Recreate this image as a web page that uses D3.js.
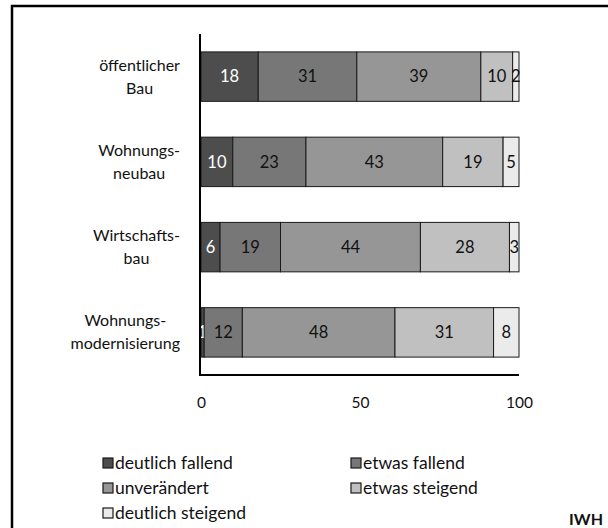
<!DOCTYPE html>
<html>
<head>
    <meta charset="utf-8">
    <title>Bauerwartungen</title>
    <script src="https://d3js.org/d3.v7.min.js"></script>
    <style>
        body { margin: 0; background: #fff; }
        text { font-family: Lato, "Open Sans", sans-serif; fill: #111; }
        .axis path { stroke: #000; stroke-width: 2; }
        .axis text { font-size: 15.5px; }
    </style>
</head>
<body>
    <script>
        // Data
        const catLines = [["öffentlicher", "Bau"], ["Wohnungs-", "neubau"], ["Wirtschafts-", "bau"], ["Wohnungs-", "modernisierung"]];
        const seriesNames = ["deutlich fallend", "etwas fallend", "unverändert", "etwas steigend", "deutlich steigend"];
        const deutlichFallend = [18, 10, 6, 1];
        const etwasFallend = [31, 23, 19, 12];
        const unveraendert = [39, 43, 44, 48];
        const etwasSteigend = [10, 19, 28, 31];
        const deutlichSteigend = [2, 5, 3, 8];
        const xTicks = [0, 50, 100];

        const colors = ["#4d4d4d", "#777777", "#969696", "#c0c0c0", "#ebebeb"];
        const labelColors = ["#fff", "#111", "#111", "#111", "#111"];

        const W = 608, H = 528;
        const svg = d3.select("body").append("svg")
            .attr("width", W)
            .attr("height", H);

        // frame
        svg.append("rect")
            .attr("x", 12).attr("y", 6)
            .attr("width", 620).attr("height", 560)
            .attr("fill", "none").attr("stroke", "#000").attr("stroke-width", 2.5);

        const table = catLines.map((c, i) => ({
            idx: i,
            vals: [deutlichFallend[i], etwasFallend[i], unveraendert[i], etwasSteigend[i], deutlichSteigend[i]]
        }));
        const stack = d3.stack()
            .keys(d3.range(5))
            .value((d, k) => d.vals[k])(table);

        const x = d3.scaleLinear().domain([0, 100]).range([201, 519]);
        const y = d3.scaleBand()
            .domain(d3.range(4))
            .range([34, 375])
            .paddingInner(0.42)
            .paddingOuter(0.21);

        // bars
        const layers = svg.selectAll("g.layer")
            .data(stack)
            .enter().append("g")
            .attr("class", "layer");

        layers.selectAll("rect")
            .data(d => d)
            .enter().append("rect")
            .attr("x", d => x(d[0]))
            .attr("y", d => y(d.data.idx))
            .attr("width", d => x(d[1]) - x(d[0]))
            .attr("height", y.bandwidth())
            .attr("fill", (d, i, n) => colors[d3.select(n[i].parentNode).datum().key])
            .attr("stroke", "#1a1a1a")
            .attr("stroke-width", 1);

        layers.each(function(layer) {
            d3.select(this).selectAll("text")
                .data(layer)
                .enter().append("text")
                .attr("x", d => (x(d[0]) + x(d[1])) / 2)
                .attr("y", d => y(d.data.idx) + y.bandwidth() / 2)
                .attr("dy", "0.35em")
                .attr("text-anchor", "middle")
                .style("font-size", "16.5px")
                .style("fill", labelColors[layer.key])
                .text(d => d.data.vals[layer.key]);
        });

        // y axis line
        svg.append("line")
            .attr("x1", 200).attr("x2", 200)
            .attr("y1", 34).attr("y2", 376)
            .attr("stroke", "#000").attr("stroke-width", 2);

        // x axis
        const xAxis = d3.axisBottom(x)
            .tickValues(xTicks)
            .tickSize(0)
            .tickPadding(22);
        const gx = svg.append("g")
            .attr("class", "axis")
            .attr("transform", "translate(0,375)")
            .call(xAxis);
        gx.select(".domain").attr("d", "M200,0H519");

        // category labels (centered block, right aligned)
        catLines.forEach((lines, i) => {
            const g = svg.append("g");
            const t = g.append("text")
                .attr("text-anchor", "middle")
                .style("font-size", "16px");
            lines.forEach((l, j) => {
                t.append("tspan").attr("x", 0)
                    .attr("y", y(i) + y.bandwidth() / 2 + (j - (lines.length - 1) / 2) * 23)
                    .attr("dy", "0.35em")
                    .text(l);
            });
            const w = t.node().getBBox().width;
            g.attr("transform", `translate(${180 - w / 2},0)`);
        });

        // legend
        const legX = [103, 351];
        const legY = [463, 488, 513];
        seriesNames.forEach((s, i) => {
            const lx = legX[i % 2], ly = legY[Math.floor(i / 2)];
            svg.append("rect")
                .attr("x", lx).attr("y", ly - 5)
                .attr("width", 10).attr("height", 10)
                .attr("fill", colors[i])
                .attr("stroke", "#1a1a1a").attr("stroke-width", 1.2);
            svg.append("text")
                .attr("x", lx + 12).attr("y", ly)
                .attr("dy", "0.35em")
                .style("font-size", "17.5px")
                .text(s);
        });

        svg.append("text")
            .attr("x", 603).attr("y", 525)
            .attr("text-anchor", "end")
            .style("font-size", "16px")
            .style("font-weight", "bold")
            .text("IWH");
    </script>
</body>
</html>
